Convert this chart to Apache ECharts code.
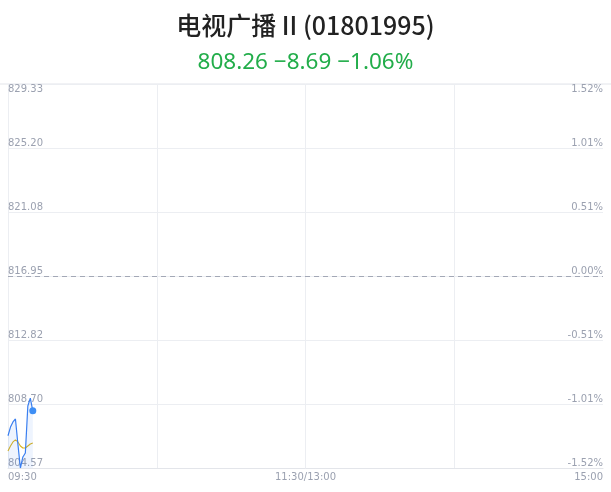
<!DOCTYPE html>
<html>
<head>
<meta charset="utf-8">
<script src="https://cdn.jsdelivr.net/npm/echarts@6/dist/echarts.min.js"></script>
<style>
html,body{margin:0;padding:0;background:#fff;}
#c{width:611px;height:492px;}
</style>
</head>
<body>
<div id="c"></div>
<script>
// ---- data ----
var titleText = '电视广播 II (01801995)';
var subText = '808.26 \u22128.69 \u22121.06%';
var prevClose = 816.95;
var yMin = 804.57;
var yMax = 829.33;
var priceTicks = ['804.57', '808.70', '812.82', '816.95', '821.08', '825.20', '829.33'];
var pctTicks = ['-1.52%', '-1.01%', '-0.51%', '0.00%', '0.51%', '1.01%', '1.52%'];
var prices = [806.65, 807.21, 807.54, 807.73, 806.10, 804.57, 805.28, 805.54, 808.57, 809.08, 808.26];
var avgPrices = [805.67, 805.99, 806.25, 806.38, 806.25, 805.99, 805.86, 805.86, 805.99, 806.12, 806.18];

// time categories 09:30-11:30, 13:01-15:00
function pad(n){return (n<10?'0':'')+n;}
var times = [];
for (var m = 9*60+30; m <= 11*60+30; m++) times.push(pad(Math.floor(m/60))+':'+pad(m%60));
for (var m2 = 13*60+1; m2 <= 15*60; m2++) times.push(pad(Math.floor(m2/60))+':'+pad(m2%60));
var xLabelMap = {0:'09:30', 120:'11:30/13:00', 240:'15:00'};

var step = 4.1267;
var labelColor = '#9ba1b0';
var gridColor = '#eceef2';
var lastIdx = prices.length - 1;

var chart = echarts.init(document.getElementById('c'));
chart.setOption({
  animation: false,
  title: [
    {text: titleText, left: 'center', top: 8,
     textStyle: {fontSize: 25, fontWeight: 500, color: '#222', fontFamily: 'Noto Sans CJK SC'}},
    {text: subText, left: 'center', top: 46,
     textStyle: {fontSize: 22.5, fontWeight: 'normal', color: '#22ad4a', fontFamily: 'Noto Sans'}}
  ],
  graphic: [{
    type: 'line', shape: {x1: 0, y1: 84, x2: 611, y2: 84},
    style: {stroke: '#e3e5ea', lineWidth: 1}, silent: true
  }],
  grid: {left: 8, right: 8, top: 84, bottom: 24, containLabel: false},
  xAxis: {
    type: 'category', data: times, boundaryGap: false,
    axisLine: {show: true, lineStyle: {color: '#e3e5ea'}},
    axisTick: {show: false},
    splitLine: {show: true, interval: function(i){ return i % 60 === 0 && i < 240; },
                lineStyle: {color: gridColor, width: 1}},
    axisLabel: {
      interval: function(i){ return xLabelMap[i] !== undefined; },
      formatter: function(v, i){ return xLabelMap[i] || ''; },
      color: labelColor, fontSize: 10, margin: 4, fontFamily: 'DejaVu Sans',
      alignMinLabel: 'left', alignMaxLabel: 'right', showMinLabel: true, showMaxLabel: true
    }
  },
  yAxis: [{
    type: 'value', min: yMin, max: yMax, interval: step, position: 'left',
    axisLine: {show: false}, axisTick: {show: false},
    splitLine: {show: true, lineStyle: {color: gridColor, width: 1}},
    axisLabel: {
      inside: true, margin: 0, align: 'left', verticalAlign: 'bottom',
      verticalAlignMaxLabel: 'top',
      color: labelColor, fontSize: 10, fontFamily: 'DejaVu Sans',
      formatter: function(v, i){ return priceTicks[i] || ''; }
    }
  }, {
    type: 'value', min: yMin, max: yMax, interval: step, position: 'right',
    axisLine: {show: false}, axisTick: {show: false}, splitLine: {show: false},
    axisLabel: {
      inside: true, margin: 0, align: 'right', verticalAlign: 'bottom',
      verticalAlignMaxLabel: 'top',
      color: labelColor, fontSize: 10, fontFamily: 'DejaVu Sans',
      formatter: function(v, i){ return pctTicks[i] || ''; }
    }
  }],
  series: [{
    type: 'line', data: prices, yAxisIndex: 0,
    showSymbol: true, showAllSymbol: true, symbol: 'circle',
    symbolSize: function(v, p){ return p.dataIndex === lastIdx ? 7 : 0; },
    itemStyle: {color: '#3d8ef5'},
    lineStyle: {color: '#3a7ff0', width: 1.2},
    areaStyle: {color: 'rgba(61,130,245,0.12)', origin: 'start'},
    markLine: {
      silent: true, symbol: 'none', label: {show: false},
      lineStyle: {color: '#a3a8b6', type: [5, 4], width: 1},
      data: [{yAxis: prevClose}]
    },
    z: 3
  }, {
    type: 'line', data: avgPrices, yAxisIndex: 0, showSymbol: false,
    lineStyle: {color: '#d9b21c', width: 1.1}, z: 2
  }]
});
</script>
</body>
</html>
